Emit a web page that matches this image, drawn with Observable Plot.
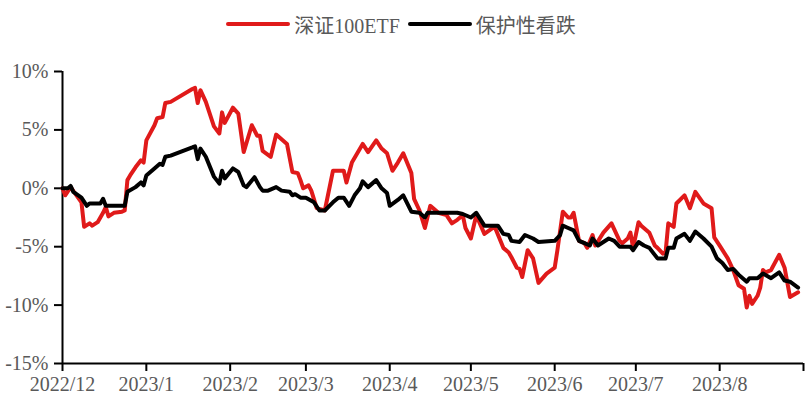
<!DOCTYPE html>
<html><head><meta charset="utf-8">
<script src="https://cdn.jsdelivr.net/npm/d3@7"></script>
<script src="https://cdn.jsdelivr.net/npm/@observablehq/plot@0.6"></script>
<style>
body{margin:0;background:#fff;width:810px;height:408px;overflow:hidden}
#legend{height:48px;display:flex;justify-content:center;align-items:center;font-family:"Liberation Serif","Noto Sans CJK SC",serif;font-size:20px;color:#595959}
.sw{display:inline-block;width:64px;height:4px;border-radius:2px;margin-right:4px}
.lab{margin-right:8px}
</style></head><body>
<div id="legend"></div>
<div id="chart"></div>
<script>
const seriesNames = ["深证100ETF", "保护性看跌"];
const seriesColors = ["#e01a1a", "#000000"];

const redDates = ["2022-12-01","2022-12-02","2022-12-04","2022-12-08","2022-12-09","2022-12-11","2022-12-12","2022-12-14","2022-12-16","2022-12-17","2022-12-18","2022-12-20","2022-12-23","2022-12-24","2022-12-25","2022-12-26","2022-12-28","2022-12-30","2022-12-31","2023-01-01","2023-01-04","2023-01-05","2023-01-07","2023-01-08","2023-01-10","2023-01-18","2023-01-19","2023-01-20","2023-01-21","2023-01-23","2023-01-26","2023-01-28","2023-01-29","2023-01-30","2023-02-02","2023-02-04","2023-02-06","2023-02-09","2023-02-11","2023-02-12","2023-02-13","2023-02-16","2023-02-18","2023-02-22","2023-02-24","2023-02-26","2023-02-27","2023-02-28","2023-03-02","2023-03-03","2023-03-05","2023-03-08","2023-03-11","2023-03-15","2023-03-16","2023-03-18","2023-03-20","2023-03-22","2023-03-24","2023-03-27","2023-03-29","2023-03-31","2023-04-02","2023-04-04","2023-04-06","2023-04-09","2023-04-10","2023-04-12","2023-04-14","2023-04-16","2023-04-19","2023-04-22","2023-04-24","2023-04-26","2023-04-28","2023-04-29","2023-05-01","2023-05-03","2023-05-06","2023-05-09","2023-05-10","2023-05-13","2023-05-15","2023-05-16","2023-05-18","2023-05-19","2023-05-20","2023-05-22","2023-05-24","2023-05-26","2023-05-29","2023-06-01","2023-06-02","2023-06-04","2023-06-06","2023-06-07","2023-06-08","2023-06-10","2023-06-12","2023-06-13","2023-06-15","2023-06-16","2023-06-19","2023-06-22","2023-06-25","2023-06-26","2023-06-28","2023-06-29","2023-06-30","2023-07-02","2023-07-03","2023-07-06","2023-07-08","2023-07-09","2023-07-11","2023-07-12","2023-07-13","2023-07-15","2023-07-16","2023-07-19","2023-07-21","2023-07-23","2023-07-26","2023-07-29","2023-07-30","2023-08-01","2023-08-04","2023-08-06","2023-08-08","2023-08-10","2023-08-11","2023-08-12","2023-08-13","2023-08-15","2023-08-16","2023-08-17","2023-08-18","2023-08-20","2023-08-23","2023-08-25","2023-08-27","2023-08-30"];
const redValues = [0,-0.6,0.1,-1.2,-3.3,-3.0,-3.2,-2.9,-2.1,-1.6,-2.4,-2.1,-2.0,-1.9,0.7,1.1,1.8,2.4,2.2,4.1,5.4,6.0,6.1,7.3,7.4,8.5,8.6,7.3,8.4,7.4,5.3,4.7,6.5,5.6,6.9,6.4,3.1,5.4,4.5,4.5,3.2,2.7,4.6,3.8,1.4,1.3,0.7,0.0,0.25,-0.2,-1.7,-1.9,1.5,1.5,0.5,2.2,3.0,3.8,3.1,4.1,3.4,3.0,1.5,2.2,3.0,1.3,-0.9,-1.9,-3.4,-1.5,-2.1,-2.3,-3.0,-2.7,-2.3,-3.4,-4.3,-2.3,-3.9,-3.4,-3.4,-5.1,-5.5,-5.9,-6.8,-6.9,-7.6,-5.3,-6.0,-8.1,-7.3,-6.8,-5.3,-2.0,-2.5,-2.5,-2.1,-4.5,-4.7,-5.1,-4.0,-4.9,-3.8,-3.0,-4.5,-4.7,-4.3,-3.8,-5.1,-2.9,-3.2,-3.8,-4.9,-5.1,-5.6,-5.5,-3.0,-3.3,-1.3,-0.6,-1.7,-0.3,-1.3,-1.7,-4.2,-4.9,-6.0,-7.0,-8.3,-8.6,-10.2,-9.2,-9.9,-9.2,-8.5,-7.0,-7.2,-7.0,-5.7,-6.8,-9.3,-8.9];

const blackDates = ["2022-12-01","2022-12-03","2022-12-04","2022-12-05","2022-12-08","2022-12-10","2022-12-11","2022-12-15","2022-12-16","2022-12-17","2022-12-24","2022-12-25","2022-12-28","2022-12-30","2022-12-31","2023-01-01","2023-01-04","2023-01-06","2023-01-07","2023-01-08","2023-01-10","2023-01-18","2023-01-19","2023-01-20","2023-01-21","2023-01-23","2023-01-26","2023-01-28","2023-01-29","2023-01-30","2023-02-02","2023-02-04","2023-02-06","2023-02-07","2023-02-10","2023-02-12","2023-02-13","2023-02-15","2023-02-18","2023-02-20","2023-02-23","2023-02-24","2023-02-25","2023-02-27","2023-03-01","2023-03-04","2023-03-06","2023-03-08","2023-03-11","2023-03-13","2023-03-15","2023-03-17","2023-03-19","2023-03-21","2023-03-22","2023-03-24","2023-03-27","2023-03-29","2023-03-31","2023-04-01","2023-04-04","2023-04-06","2023-04-09","2023-04-12","2023-04-14","2023-04-15","2023-04-19","2023-04-26","2023-04-28","2023-05-01","2023-05-03","2023-05-06","2023-05-09","2023-05-11","2023-05-13","2023-05-15","2023-05-16","2023-05-19","2023-05-21","2023-05-24","2023-05-26","2023-06-01","2023-06-03","2023-06-04","2023-06-06","2023-06-08","2023-06-10","2023-06-12","2023-06-14","2023-06-15","2023-06-17","2023-06-21","2023-06-23","2023-06-25","2023-06-29","2023-06-30","2023-07-02","2023-07-04","2023-07-06","2023-07-08","2023-07-09","2023-07-12","2023-07-13","2023-07-15","2023-07-16","2023-07-19","2023-07-21","2023-07-23","2023-07-26","2023-07-29","2023-07-31","2023-08-02","2023-08-04","2023-08-06","2023-08-08","2023-08-11","2023-08-12","2023-08-15","2023-08-17","2023-08-20","2023-08-23","2023-08-25","2023-08-27","2023-08-30"];
const blackValues = [0,0,0.2,-0.3,-0.8,-1.5,-1.3,-1.3,-0.9,-1.5,-1.5,-0.3,0.1,0.5,0.25,1.1,1.7,2.1,2.0,2.7,2.8,3.5,3.6,2.5,3.4,2.7,1.0,0.4,1.5,0.85,1.7,1.4,0.25,0.1,0.95,0.1,-0.2,-0.2,0.1,-0.2,-0.3,-0.6,-0.5,-0.8,-0.8,-1.2,-1.9,-1.9,-1.2,-0.8,-0.8,-1.5,-0.6,0.0,0.6,0.1,0.7,0.0,-0.4,-1.5,-1.0,-0.6,-2.0,-2.1,-2.5,-2.1,-2.1,-2.1,-2.2,-2.5,-2.1,-3.2,-3.2,-3.2,-3.9,-4.0,-4.5,-4.6,-4.0,-4.3,-4.6,-4.5,-4.0,-3.2,-3.4,-3.6,-4.5,-4.7,-4.9,-4.3,-4.9,-4.3,-4.5,-5.0,-5.0,-5.3,-4.6,-4.9,-5.1,-5.7,-6.0,-6.0,-5.1,-5.1,-4.3,-3.9,-4.5,-3.7,-4.3,-5.0,-6.0,-6.4,-7.0,-6.9,-7.4,-8.0,-7.7,-7.7,-7.3,-7.7,-7.2,-7.9,-8.0,-8.5];

const monthTickDates = ["2022-12-01","2023-01-01","2023-02-01","2023-03-01","2023-04-01","2023-05-01","2023-06-01","2023-07-01","2023-08-01","2023-09-01"];
const monthTickLabels = ["2022/12","2023/1","2023/2","2023/3","2023/4","2023/5","2023/6","2023/7","2023/8",""];
const yTicks = [-15,-10,-5,0,5,10];
const yTickLabels = ["-15%","-10%","-5%","0%","5%","10%"];

const parse = d3.utcParse("%Y-%m-%d");
const red = redDates.map((d,i)=>({date: parse(d), value: redValues[i]}));
const black = blackDates.map((d,i)=>({date: parse(d), value: blackValues[i]}));
const monthTicks = monthTickDates.map(parse);

// legend
const legend = document.getElementById("legend");
seriesNames.forEach((n,i)=>{
  const sw = document.createElement("span"); sw.className="sw"; sw.style.background=seriesColors[i];
  const t = document.createElement("span"); t.className="lab"; t.textContent=n;
  legend.appendChild(sw); legend.appendChild(t);
});

const font = '"Liberation Serif","Noto Sans CJK SC",serif';
const chart = Plot.plot({
  width: 810, height: 360,
  marginLeft: 62, marginRight: 7, marginTop: 23, marginBottom: 45,
  style: {fontFamily: font, fontSize: "20px", color: "#595959", background: "#fff"},
  x: {type: "utc", domain: [monthTicks[0], monthTicks[monthTicks.length-1]]},
  y: {domain: [-15, 10]},
  marks: [
    Plot.axisY({ticks: yTicks, tickFormat: d => yTickLabels[yTicks.indexOf(d)], tickSize: 8, tickPadding: 6, stroke: "#000", strokeWidth: 2, fill: "#595959", fontSize: 20, label: null}),
    Plot.axisX({ticks: monthTicks, tickFormat: d => monthTickLabels[monthTicks.findIndex(t => +t === +d)], tickSize: 8, tickPadding: 5, stroke: "#000", strokeWidth: 2, fill: "#595959", fontSize: 20, label: null}),
    Plot.ruleX([monthTicks[0]], {stroke: "#000", strokeWidth: 2}),
    Plot.ruleY([-15], {stroke: "#000", strokeWidth: 2}),
    Plot.line(red, {x: "date", y: "value", stroke: seriesColors[0], strokeWidth: 4, strokeLinejoin: "round", strokeLinecap: "round"}),
    Plot.line(black, {x: "date", y: "value", stroke: seriesColors[1], strokeWidth: 4, strokeLinejoin: "round", strokeLinecap: "round"})
  ]
});
document.getElementById("chart").appendChild(chart);
</script>
</body></html>
